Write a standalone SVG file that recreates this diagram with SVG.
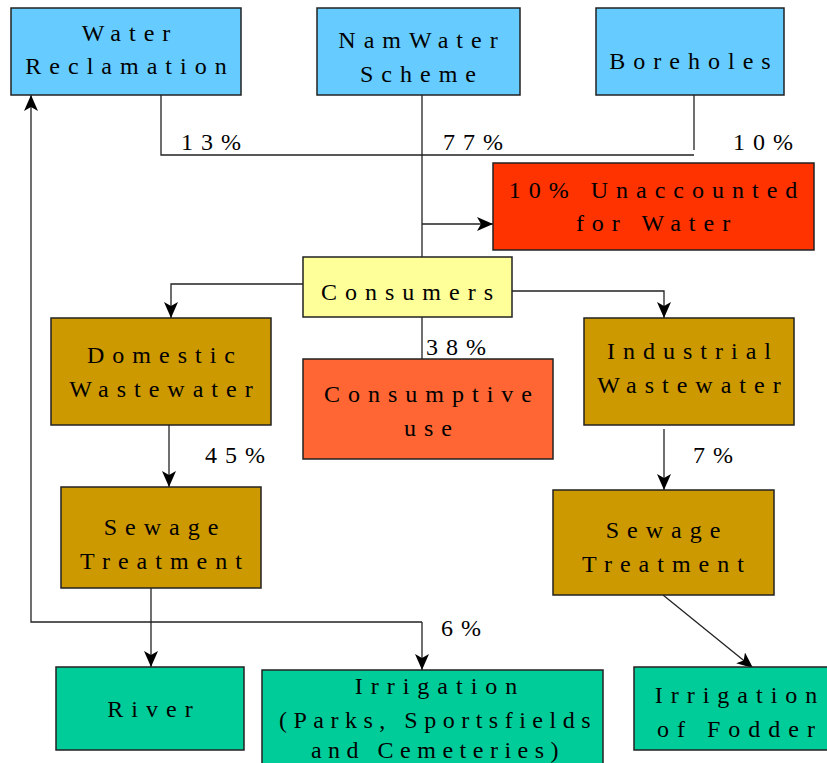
<svg xmlns="http://www.w3.org/2000/svg" width="827" height="763" viewBox="0 0 827 763">
<defs>
<marker id="arr" markerUnits="userSpaceOnUse" markerWidth="16" markerHeight="14" refX="16" refY="7" orient="auto">
<path d="M0,0 L16,7 L0,14 L4,7 z" fill="#000"/>
</marker>
<style>
.box{stroke:#222;stroke-width:1.5}
.blue{fill:#66CCFF}.red{fill:#FF3300}.yel{fill:#FFFF99}.brn{fill:#CC9900}.org{fill:#FF6633}.teal{fill:#00CC99}
.t{font-family:"Liberation Serif","DejaVu Serif","Times New Roman",serif;font-size:24px;letter-spacing:8px;fill:#000}
.n{letter-spacing:6.5px}
.c{text-anchor:middle}
.ln{fill:none;stroke:#222;stroke-width:1.3}
.ar{marker-end:url(#arr)}
</style>
</defs>
<rect width="827" height="763" fill="#fff"/>
<g id="connectors">
<polyline class="ln" points="161,95 161,155 694,155"/>
<line class="ln" x1="694" y1="95" x2="694" y2="150"/>
<line class="ln" x1="422" y1="95" x2="422" y2="257"/>
<line class="ln ar" x1="422" y1="224" x2="493" y2="224"/>
<polyline class="ln ar" points="303,284 171,284 171,318"/>
<polyline class="ln ar" points="512,291 664,291 664,318"/>
<line class="ln" x1="422" y1="317" x2="422" y2="359"/>
<line class="ln ar" x1="169" y1="423" x2="169" y2="487"/>
<line class="ln ar" x1="664" y1="429" x2="664" y2="490"/>
<line class="ln ar" x1="151" y1="588" x2="151" y2="667"/>
<polyline class="ln ar" points="422,622 31,622 31,95"/>
<line class="ln ar" x1="422" y1="622" x2="422" y2="670"/>
<line class="ln ar" x1="663" y1="595" x2="753" y2="668"/>
<text class="t" x="181" y="150">13%</text>
<text class="t" x="443" y="150">77%</text>
<text class="t" x="733" y="150">10%</text>
<text class="t" x="426" y="355">38%</text>
<text class="t" x="205" y="463">45%</text>
<text class="t" x="693" y="463">7%</text>
<text class="t" x="441" y="636">6%</text>
</g>
<g id="water-reclamation">
<rect class="box blue" x="11" y="8" width="230" height="87"/>
<text class="t c" x="130" y="41">Water</text>
<text class="t c" x="130" y="74">Reclamation</text>
</g>
<g id="namwater">
<rect class="box blue" x="317" y="8" width="203" height="87"/>
<text class="t c" x="422" y="48">NamWater</text>
<text class="t c" x="422" y="82">Scheme</text>
</g>
<g id="boreholes">
<rect class="box blue" x="596" y="8" width="188" height="87"/>
<text class="t c" x="694" y="69">Boreholes</text>
</g>
<g id="unaccounted">
<rect class="box red" x="493" y="163" width="321" height="87"/>
<text class="t c" x="657" y="198">10% Unaccounted</text>
<text class="t c" x="657" y="231">for Water</text>
</g>
<g id="consumers">
<rect class="box yel" x="303" y="257" width="209" height="60"/>
<text class="t c" x="411" y="300">Consumers</text>
</g>
<g id="domestic">
<rect class="box brn" x="51" y="318" width="220" height="107"/>
<text class="t c" x="165" y="363">Domestic</text>
<text class="t c" x="165" y="397">Wastewater</text>
</g>
<g id="consumptive">
<rect class="box org" x="303" y="359" width="250" height="100"/>
<text class="t c" x="432" y="402">Consumptive</text>
<text class="t c" x="432" y="436">use</text>
</g>
<g id="industrial">
<rect class="box brn" x="584" y="318" width="210" height="107"/>
<text class="t c" x="693" y="359">Industrial</text>
<text class="t c" x="693" y="393">Wastewater</text>
</g>
<g id="sewage-left">
<rect class="box brn" x="61" y="487" width="200" height="101"/>
<text class="t c" x="165" y="535">Sewage</text>
<text class="t c" x="165" y="569">Treatment</text>
</g>
<g id="sewage-right">
<rect class="box brn" x="553" y="490" width="221" height="105"/>
<text class="t c" x="667" y="538">Sewage</text>
<text class="t c" x="667" y="572">Treatment</text>
</g>
<g id="river">
<rect class="box teal" x="56" y="667" width="188" height="83"/>
<text class="t c" x="154" y="717">River</text>
</g>
<g id="irrigation-parks">
<rect class="box teal" x="262" y="670" width="341" height="100"/>
<text class="t c" x="440" y="694">Irrigation</text>
<text class="t c n" x="438" y="728">(Parks, Sportsfields</text>
<text class="t c n" x="438" y="758">and Cemeteries)</text>
</g>
<g id="irrigation-fodder">
<rect class="box teal" x="634" y="667" width="200" height="83"/>
<text class="t c" x="740" y="703">Irrigation</text>
<text class="t c" x="740" y="737">of Fodder</text>
</g>
</svg>
